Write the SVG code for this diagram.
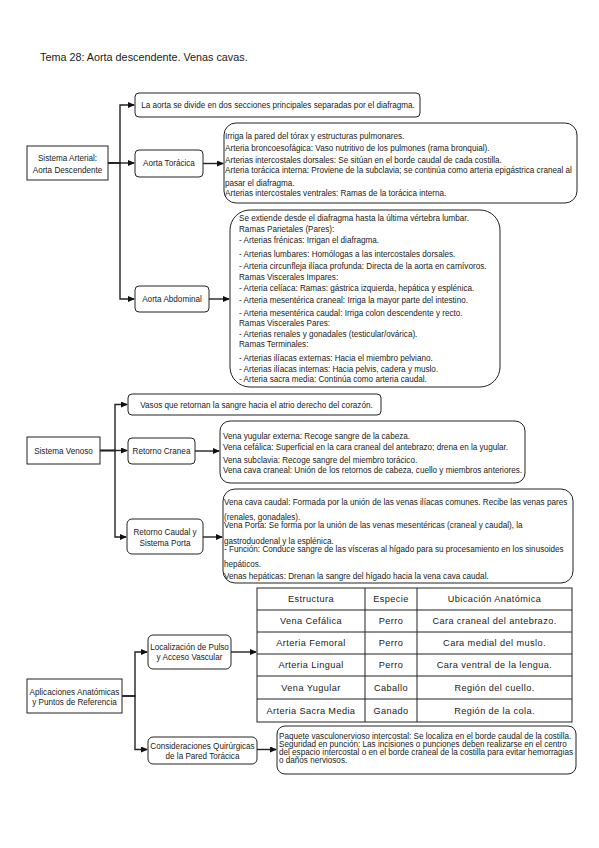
<svg xmlns="http://www.w3.org/2000/svg" width="599" height="848" viewBox="0 0 599 848">
<style>
text{font-family:"Liberation Sans",Arial,sans-serif;font-size:8.15px;fill:#1a1a1a}
.m{text-anchor:middle}
.title{font-size:10.8px}
.box{fill:#fff;stroke:#222;stroke-width:1}
.tb text{font-size:9.2px;letter-spacing:0.4px;text-anchor:middle}
.tb line,.tb rect{stroke:#222;stroke-width:1;fill:none}
.edge{fill:none;stroke:#222;stroke-width:1.4;marker-end:url(#arr)}
</style>
<defs>
<marker id="arr" markerWidth="7" markerHeight="6" refX="6" refY="3" orient="auto" markerUnits="userSpaceOnUse">
<path d="M0,0 L7,3 L0,6 Z" fill="#111"/>
</marker>
</defs>
<rect width="599" height="848" fill="#fff"/>
<text x="40" y="61" class="title">Tema 28: Aorta descendente. Venas cavas.</text>

<g id="connectors">
<path class="edge" d="M108,163 H120 V105 H134"/>
<path class="edge" d="M108,163 H134"/>
<path class="edge" d="M108,163 H120 V299 H134"/>
<path class="edge" d="M203,163.5 H223"/>
<path class="edge" d="M209,299 H229"/>
<path class="edge" d="M100,450.5 H115 V404.5 H127"/>
<path class="edge" d="M100,450.5 H127"/>
<path class="edge" d="M100,450.5 H115 V537 H126"/>
<path class="edge" d="M195,451 H219"/>
<path class="edge" d="M203,537 H222"/>
<path class="edge" d="M122,696 H135 V652 H147"/>
<path class="edge" d="M122,696 H135 V749.5 H147"/>
<path class="edge" d="M231,652 H256"/>
<path class="edge" d="M257,749.5 H276"/>
</g>

<g id="sistema-arterial">
<rect class="box" x="27" y="146" width="81" height="34"/>
<text class="m" x="67.5" y="160.5">Sistema Arterial:</text>
<text class="m" x="67.5" y="172.8">Aorta Descendente</text>
</g>
<g id="aorta-intro">
<rect class="box" x="135" y="93" width="285" height="24" rx="4"/>
<text class="m" x="278" y="108">La aorta se divide en dos secciones principales separadas por el diafragma.</text>
</g>
<g id="aorta-toracica">
<rect class="box" x="135" y="150" width="68" height="27" rx="4"/>
<text class="m" x="169" y="166">Aorta Torácica</text>
</g>
<g id="toracica-detalle">
<rect class="box" x="224" y="123" width="353" height="80" rx="12"/>
<text x="225" y="139">Irriga la pared del tórax y estructuras pulmonares.</text>
<text x="225" y="150.5">Arteria broncoesofágica: Vaso nutritivo de los pulmones (rama bronquial).</text>
<text x="225" y="162.5">Arterias intercostales dorsales: Se sitúan en el borde caudal de cada costilla.</text>
<text x="225" y="173">Arteria torácica interna: Proviene de la subclavia; se continúa como arteria epigástrica craneal al</text>
<text x="225" y="185.5">pasar el diafragma.</text>
<text x="225" y="196">Arterias intercostales ventrales: Ramas de la torácica interna.</text>
</g>
<g id="aorta-abdominal">
<rect class="box" x="135" y="286" width="74" height="26" rx="4"/>
<text class="m" x="172" y="302">Aorta Abdominal</text>
</g>
<g id="abdominal-detalle">
<rect class="box" x="230" y="210" width="270" height="177" rx="20"/>
<text x="239" y="221">Se extiende desde el diafragma hasta la última vértebra lumbar.</text>
<text x="239" y="232">Ramas Parietales (Pares):</text>
<text x="239" y="243">- Arterias frénicas: Irrigan el diafragma.</text>
<text x="239" y="257">- Arterias lumbares: Homólogas a las intercostales dorsales.</text>
<text x="239" y="269">- Arteria circunfleja ilíaca profunda: Directa de la aorta en carnívoros.</text>
<text x="239" y="280">Ramas Viscerales Impares:</text>
<text x="239" y="291">- Arteria celíaca: Ramas: gástrica izquierda, hepática y esplénica.</text>
<text x="239" y="303">- Arteria mesentérica craneal: Irriga la mayor parte del intestino.</text>
<text x="239" y="316">- Arteria mesentérica caudal: Irriga colon descendente y recto.</text>
<text x="239" y="326">Ramas Viscerales Pares:</text>
<text x="239" y="337">- Arterias renales y gonadales (testicular/ovárica).</text>
<text x="239" y="347">Ramas Terminales:</text>
<text x="239" y="361">- Arterias ilíacas externas: Hacia el miembro pelviano.</text>
<text x="239" y="372">- Arterias ilíacas internas: Hacia pelvis, cadera y muslo.</text>
<text x="239" y="382">- Arteria sacra media: Continúa como arteria caudal.</text>
</g>

<g id="sistema-venoso">
<rect class="box" x="27" y="437" width="73" height="27"/>
<text class="m" x="63.5" y="453.5">Sistema Venoso</text>
</g>
<g id="venas-intro">
<rect class="box" x="128" y="394" width="253" height="21" rx="4"/>
<text class="m" x="256.5" y="407.5">Vasos que retornan la sangre hacia el atrio derecho del corazón.</text>
</g>
<g id="retorno-craneal">
<rect class="box" x="128" y="438" width="67" height="26" rx="4"/>
<text class="m" x="161.5" y="454">Retorno Cranea</text>
</g>
<g id="craneal-detalle">
<rect class="box" x="220" y="421" width="305" height="62" rx="10"/>
<text x="223" y="439">Vena yugular externa: Recoge sangre de la cabeza.</text>
<text x="223" y="450">Vena cefálica: Superficial en la cara craneal del antebrazo; drena en la yugular.</text>
<text x="223" y="463">Vena subclavia: Recoge sangre del miembro torácico.</text>
<text x="223" y="473">Vena cava craneal: Unión de los retornos de cabeza, cuello y miembros anteriores.</text>
</g>
<g id="retorno-caudal">
<rect class="box" x="127" y="519" width="76" height="35" rx="5"/>
<text class="m" x="165" y="535">Retorno Caudal y</text>
<text class="m" x="165" y="545.5">Sistema Porta</text>
</g>
<g id="caudal-detalle">
<rect class="box" x="223" y="489" width="350" height="94" rx="12"/>
<text x="224" y="504.5">Vena cava caudal: Formada por la unión de las venas ilíacas comunes. Recibe las venas pares</text>
<text x="224" y="519.5">(renales, gonadales).</text>
<text x="224" y="527.5">Vena Porta: Se forma por la unión de las venas mesentéricas (craneal y caudal), la</text>
<text x="224" y="543.5">gastroduodenal y la esplénica.</text>
<text x="224" y="551.5">- Función: Conduce sangre de las vísceras al hígado para su procesamiento en los sinusoides</text>
<text x="224" y="566.5">hepáticos.</text>
<text x="224" y="578.5">Venas hepáticas: Drenan la sangre del hígado hacia la vena cava caudal.</text>
</g>

<g id="aplicaciones">
<rect class="box" x="27" y="679" width="95" height="34"/>
<text class="m" x="74.5" y="694.5">Aplicaciones Anatómicas</text>
<text class="m" x="74.5" y="705">y Puntos de Referencia</text>
</g>
<g id="localizacion-pulso">
<rect class="box" x="148" y="635" width="83" height="34" rx="5"/>
<text class="m" x="189.5" y="649.5">Localización de Pulso</text>
<text class="m" x="189.5" y="659.5">y Acceso Vascular</text>
</g>
<g id="tabla-pulso" class="tb">
<rect x="257" y="588" width="315" height="134"/>
<line x1="365" y1="588" x2="365" y2="722"/>
<line x1="417" y1="588" x2="417" y2="722"/>
<line x1="257" y1="610" x2="572" y2="610"/>
<line x1="257" y1="632" x2="572" y2="632"/>
<line x1="257" y1="654" x2="572" y2="654"/>
<line x1="257" y1="676" x2="572" y2="676"/>
<line x1="257" y1="699" x2="572" y2="699"/>
<text x="311" y="602">Estructura</text><text x="391" y="602">Especie</text><text x="494.5" y="602">Ubicación Anatómica</text>
<text x="311" y="624">Vena Cefálica</text><text x="391" y="624">Perro</text><text x="494.5" y="624">Cara craneal del antebrazo.</text>
<text x="311" y="646">Arteria Femoral</text><text x="391" y="646">Perro</text><text x="494.5" y="646">Cara medial del muslo.</text>
<text x="311" y="668">Arteria Lingual</text><text x="391" y="668">Perro</text><text x="494.5" y="668">Cara ventral de la lengua.</text>
<text x="311" y="690.5">Vena Yugular</text><text x="391" y="690.5">Caballo</text><text x="494.5" y="690.5">Región del cuello.</text>
<text x="311" y="713.5">Arteria Sacra Media</text><text x="391" y="713.5">Ganado</text><text x="494.5" y="713.5">Región de la cola.</text>
</g>
<g id="consideraciones">
<rect class="box" x="148" y="737" width="109" height="27" rx="5"/>
<text class="m" x="202.5" y="749">Consideraciones Quirúrgicas</text>
<text class="m" x="202.5" y="759">de la Pared Torácica</text>
</g>
<g id="consideraciones-detalle">
<rect class="box" x="277" y="726" width="299" height="48" rx="8"/>
<text x="279" y="738.7">Paquete vasculonervioso intercostal: Se localiza en el borde caudal de la costilla.</text>
<text x="279" y="747">Seguridad en punción: Las incisiones o punciones deben realizarse en el centro</text>
<text x="279" y="755">del espacio intercostal o en el borde craneal de la costilla para evitar hemorragias</text>
<text x="279" y="762.7">o daños nerviosos.</text>
</g>
</svg>
